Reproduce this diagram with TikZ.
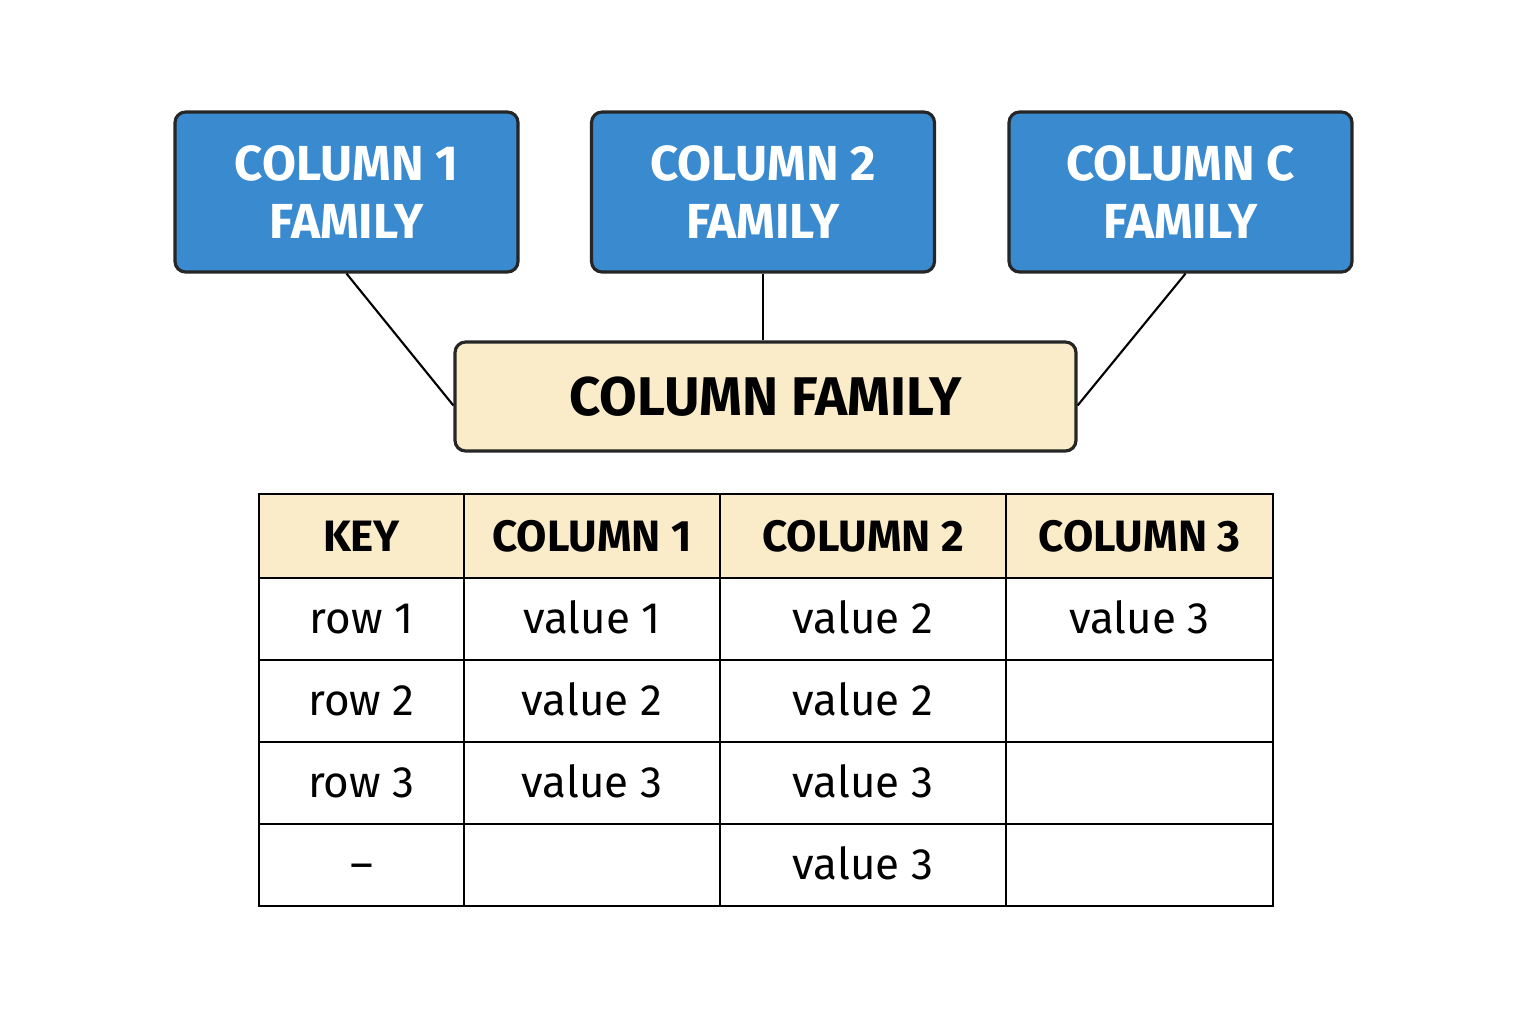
\documentclass[tikz,border=0pt]{standalone}
\usepackage{fontspec}
\setmainfont{Fira Sans}
\definecolor{famblue}{HTML}{3A8AD0}
\definecolor{cream}{HTML}{FAEBC9}
\tikzset{every picture/.style = {line width=0.6pt}}
\tikzset{fam/.style = {draw=black!85, line width=0.9pt, fill=famblue, rounded corners=3pt, minimum width=3.43cm, minimum height=1.6cm, text=white, align=center, font=\fontsize{14}{16.5}\selectfont\bfseries}}
\tikzset{cfam/.style = {draw=black!85, line width=0.9pt, fill=cream, rounded corners=3pt, minimum width=6.21cm, minimum height=1.09cm, font=\fontsize{15.5}{18}\selectfont\bfseries}}
\tikzset{hcell/.style = {draw, line width=0.8pt, fill=cream, outer sep=0, minimum height=0.84cm, font=\fontsize{12.5}{14}\selectfont\bfseries}}
\tikzset{cell/.style = {draw, line width=0.8pt, outer sep=0, minimum height=0.82cm, text height=10.5pt, text depth=2pt, font=\fontsize{12.5}{14}\selectfont}}

\begin{document}
\begin{tikzpicture}
  \useasboundingbox (0, 0) rectangle (15.36, -10.24);
  \node[fam] (c1) at (3.465, -1.92) {COLUMN 1\\FAMILY};
  \node[fam] (c2) at (7.63, -1.92) {COLUMN 2\\FAMILY};
  \node[fam] (cc) at (11.805, -1.92) {COLUMN C\\FAMILY};
  \node[cfam] (cf) at (7.655, -3.965) {COLUMN FAMILY};
  \draw (c1.south) -- ([yshift=-0.09cm]cf.west);
  \draw (c2.south) -- (c2.south |- cf.north);
  \draw ([xshift=0.05cm]cc.south) -- ([yshift=-0.09cm]cf.east);
  % table
  \foreach \x/\w/\h/\a/\b/\c/\d [count=\i] in {
      3.615/2.05/KEY/row 1/row 2/row 3/–,
      5.92/2.56/COLUMN 1/value 1/value 2/value 3/{},
      8.63/2.86/COLUMN 2/value 2/value 2/value 3/value 3,
      11.395/2.67/COLUMN 3/value 3/{}/{}/{}} {
    \node[hcell, minimum width=\w cm] (t\i-0) at (\x, -5.36) {\h};
    \node[cell, minimum width=\w cm] (t\i-1) at (\x, -6.19) {\a};
    \node[cell, minimum width=\w cm] (t\i-2) at (\x, -7.01) {\b};
    \node[cell, minimum width=\w cm] (t\i-3) at (\x, -7.83) {\c};
    \node[cell, minimum width=\w cm] (t\i-4) at (\x, -8.65) {\d};
  }
\end{tikzpicture}
\end{document}
